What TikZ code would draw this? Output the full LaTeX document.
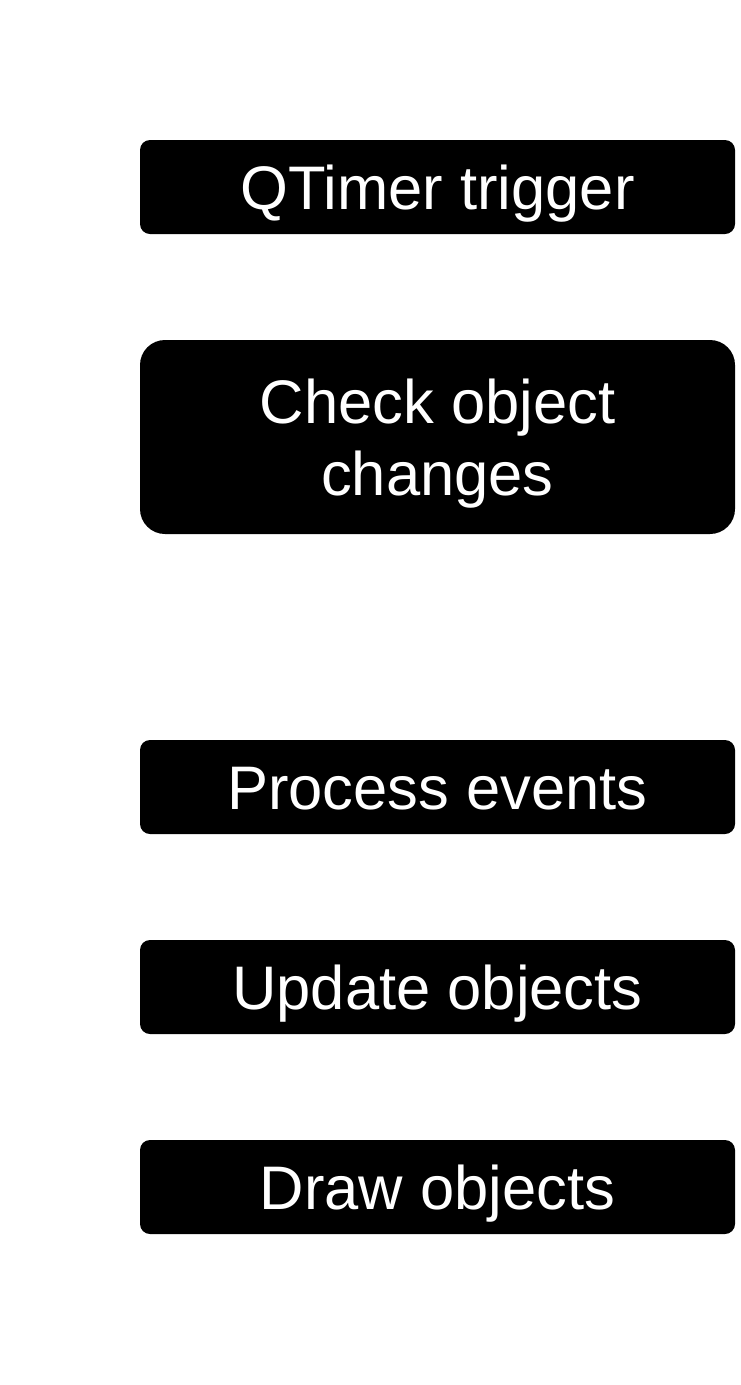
\documentclass[tikz,border=0pt]{standalone}
\usepackage{fontspec}
\setmainfont{Liberation Sans}
\begin{document}
\begin{tikzpicture}[x=1pt,y=-1pt,
  stepbox/.style={fill=black,text=white,inner sep=0pt,minimum width=595pt,
    minimum height=94pt,rounded corners=10pt,
    font=\fontsize{61.5}{72}\selectfont,text height=44pt,text depth=0pt},
  bigbox/.style={stepbox,minimum height=194pt,rounded corners=25pt,
    align=center,text height=116pt,text depth=0pt}]
\useasboundingbox[fill=white] (0,0) rectangle (740,1385);
\node[stepbox] (timer) at (437.5,187) {QTimer trigger};
\node[bigbox] (check) at (437.5,437) {Check object\\changes};
\node[stepbox] (events) at (437.5,787) {Process events};
\node[stepbox] (update) at (437.5,987) {Update objects};
\node[stepbox] (drawobj) at (437.5,1187) {Draw objects};
\end{tikzpicture}
\end{document}
